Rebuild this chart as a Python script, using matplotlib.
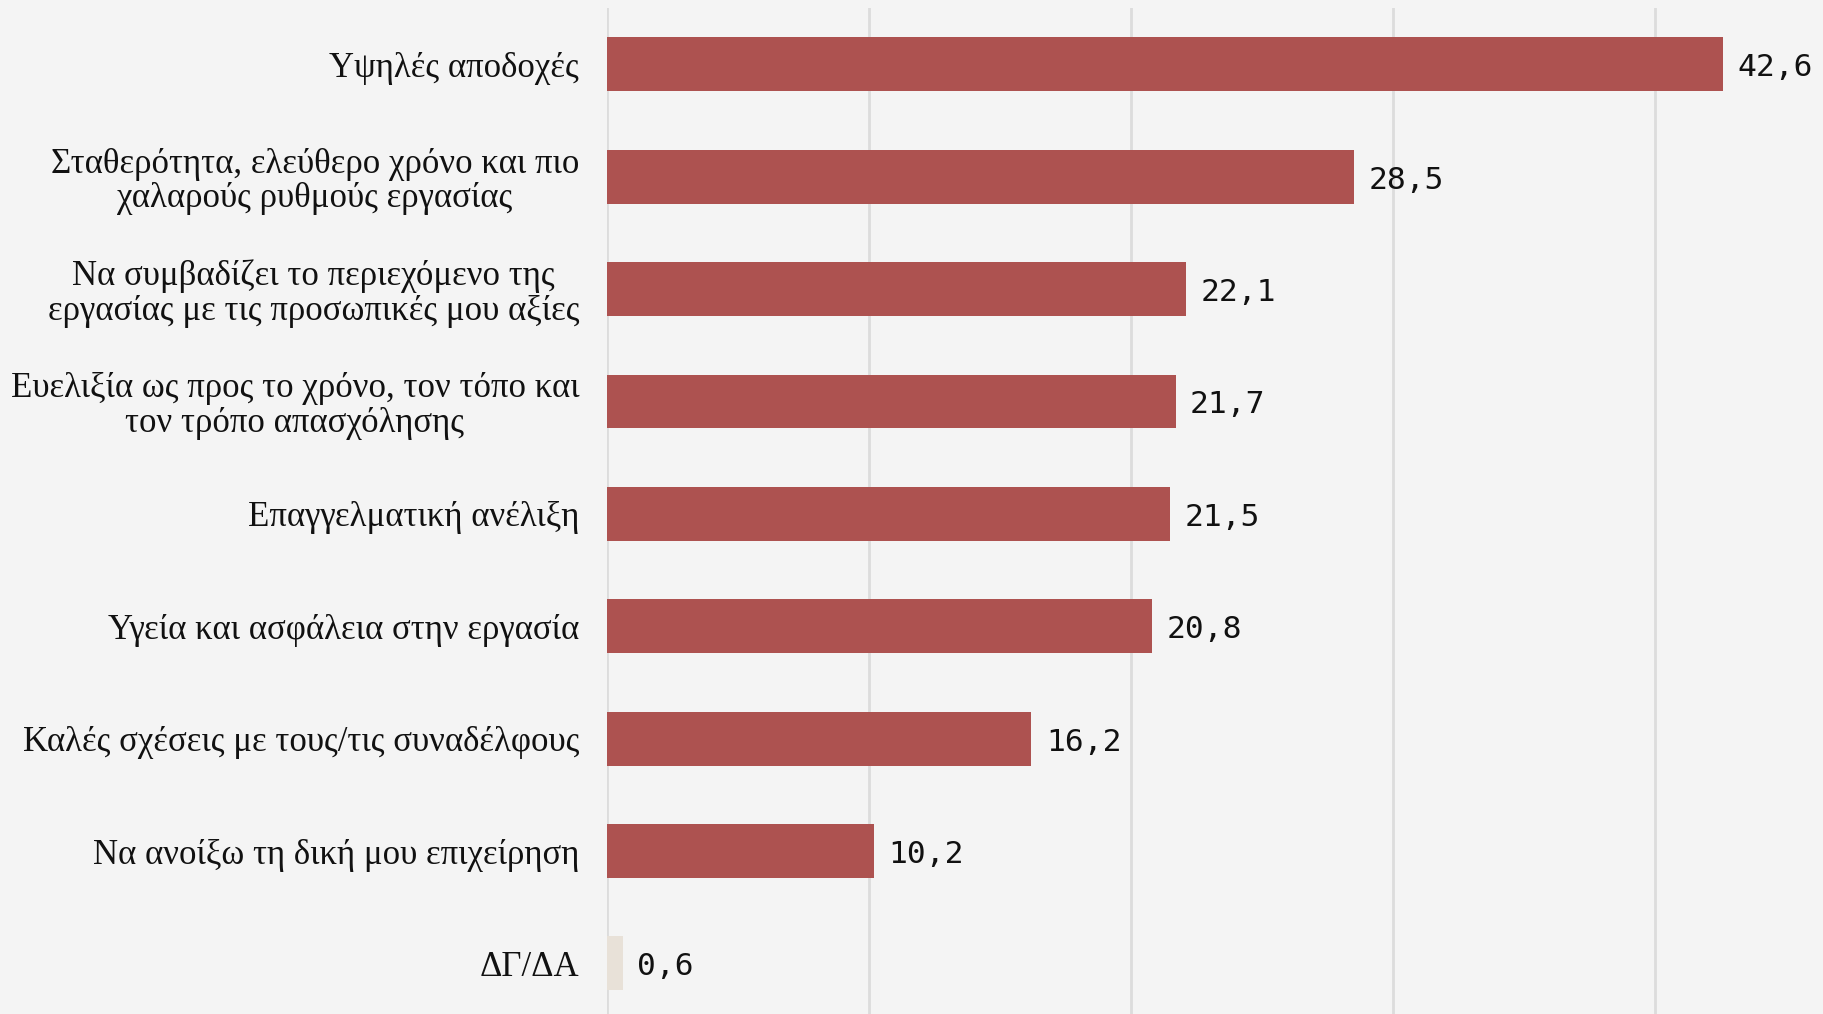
import numpy as np
import matplotlib.pyplot as plt

# ========== 数据 ==========
categories = [
    "Υψηλές αποδοχές",
    "Σταθερότητα, ελεύθερο χρόνο και πιο\nχαλαρούς ρυθμούς εργασίας",
    "Να συμβαδίζει το περιεχόμενο της\nεργασίας με τις προσωπικές μου αξίες",
    "Ευελιξία ως προς το χρόνο, τον τόπο και\nτον τρόπο απασχόλησης",
    "Επαγγελματική ανέλιξη",
    "Υγεία και ασφάλεια στην εργασία",
    "Καλές σχέσεις με τους/τις συναδέλφους",
    "Να ανοίξω τη δική μου επιχείρηση",
    "ΔΓ/ΔΑ",
]
values = [42.6, 28.5, 22.1, 21.7, 21.5, 20.8, 16.2, 10.2, 0.6]
value_labels = ["42,6", "28,5", "22,1", "21,7", "21,5", "20,8", "16,2", "10,2", "0,6"]
grid_ticks = [0, 10, 20, 30, 40]

BAR_COLOR = '#AD5250'
NA_COLOR = '#E8E1D8'
BG = '#F4F4F4'


def main():
    fig = plt.figure(figsize=(18.24, 10.14), dpi=100, facecolor=BG)
    ax = fig.add_axes([0.3328, 0.0, 0.6672, 0.992])
    ax.set_facecolor(BG)

    y = np.arange(len(categories))
    colors = [BAR_COLOR] * (len(categories) - 1) + [NA_COLOR]
    ax.barh(y, values, height=0.48, color=colors, zorder=3)

    for yi, v, lab in zip(y, values, value_labels):
        ax.text(v + 0.55, yi + 0.03, lab, va='center', ha='left',
                fontsize=22.5, family='DejaVu Sans Mono', color='#111111', zorder=4)

    ax.set_xlim(0, 46.45)
    ax.set_ylim(8.45, -0.5)
    ax.set_xticks(grid_ticks)
    ax.set_xticklabels([])
    ax.set_yticks(y)
    ax.set_yticklabels(categories, fontsize=25, family='Liberation Serif', color='#111111')
    for t in ax.get_yticklabels():
        t.set_multialignment('center')
        t.set_linespacing(1.06)

    ax.tick_params(axis='both', length=0, pad=20)
    ax.grid(True, axis='x', color='#DCDCDC', linewidth=2)
    ax.set_axisbelow(True)
    for spine in ax.spines.values():
        spine.set_visible(False)

    plt.savefig('out.png', dpi=100, facecolor=BG)
    plt.close()


if __name__ == "__main__":
    main()
